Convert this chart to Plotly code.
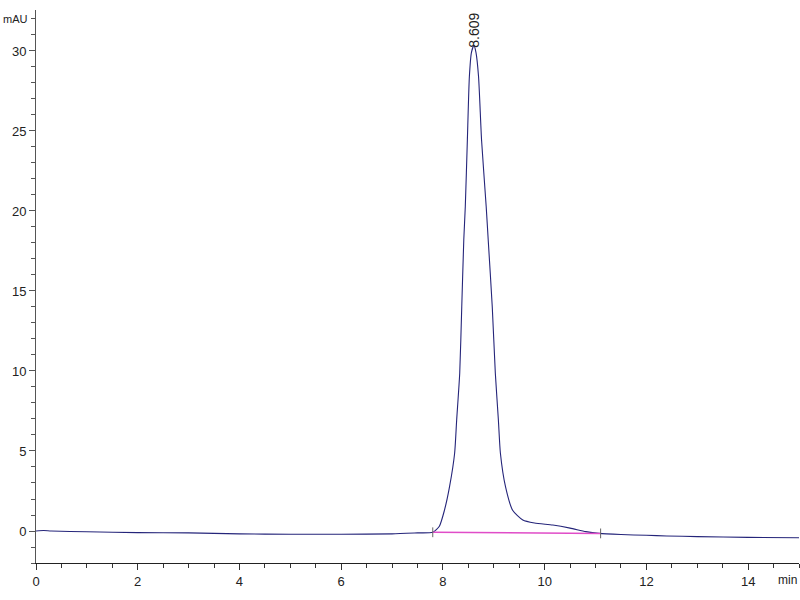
import plotly.graph_objects as go

# Chromatogram signal (time in min, absorbance in mAU)
time_min = [0.0, 0.15, 0.3, 1.0, 2.0, 3.0, 4.0, 5.0, 6.0, 7.0, 7.5, 7.8,
            7.93, 8.03, 8.13, 8.23, 8.27, 8.33, 8.37, 8.41, 8.44, 8.48, 8.52,
            8.56, 8.609, 8.65, 8.70, 8.76, 8.85, 8.89, 8.97, 9.03, 9.09, 9.13,
            9.23, 9.37, 9.57, 9.8, 10.16, 10.5, 10.81, 11.07, 11.5, 12.0,
            12.4, 13.0, 14.0, 15.0]
signal_mau = [0.0, 0.03, 0.0, -0.05, -0.1, -0.12, -0.18, -0.2, -0.2, -0.18,
              -0.12, -0.08, 0.3, 1.3, 2.77, 4.86, 6.94, 9.86, 14.0, 18.2,
              20.3, 24.4, 28.4, 29.9, 30.35, 29.9, 28.4, 24.4, 20.3, 18.2,
              14.0, 9.86, 6.94, 4.86, 2.77, 1.3, 0.69, 0.5, 0.37, 0.18, -0.04,
              -0.15, -0.22, -0.27, -0.31, -0.35, -0.4, -0.42]

# Integration baseline
baseline_x = [7.8, 11.1]
baseline_y = [-0.08, -0.15]

# Peak label
peak_rt = 8.609
peak_height = 30.35
peak_label = "8.609"

fig = go.Figure()
fig.add_trace(go.Scatter(x=time_min, y=signal_mau, mode="lines",
                         line=dict(color="#25257a", width=1.1, shape="spline", smoothing=0.6),
                         hoverinfo="skip", showlegend=False))
fig.add_trace(go.Scatter(x=baseline_x, y=baseline_y, mode="lines",
                         line=dict(color="#e04cc8", width=1.5),
                         hoverinfo="skip", showlegend=False))
fig.add_trace(go.Scatter(x=baseline_x, y=baseline_y, mode="markers",
                         marker=dict(symbol="line-ns", size=7,
                                     line=dict(color="#666", width=1)),
                         hoverinfo="skip", showlegend=False))

fig.add_annotation(x=peak_rt, y=peak_height, text=peak_label, textangle=-90,
                   showarrow=False, yanchor="bottom", xanchor="center",
                   yshift=-4, font=dict(family="Liberation Sans", size=14, color="#222"))
fig.add_annotation(x=0, xref="paper", xanchor="right", xshift=-6,
                   y=32, yref="y", text="mAU", showarrow=False,
                   font=dict(family="Liberation Sans", size=11, color="#222"))
fig.add_annotation(x=1, xref="paper", xanchor="right", y=0, yref="paper",
                   yanchor="top", yshift=-8, text="min", showarrow=False,
                   font=dict(family="Liberation Sans", size=12, color="#222"))

axis_font = dict(family="Liberation Sans", size=13, color="#222")
fig.update_xaxes(range=[0, 15], ticks="outside", ticklen=6, automargin=False,
                 tickcolor="#333", showline=True, linecolor="#222", linewidth=1,
                 showgrid=False, zeroline=False, tickfont=axis_font,
                 tickvals=[0, 2, 4, 6, 8, 10, 12, 14],
                 minor=dict(dtick=0.5, ticks="outside", ticklen=4, tickcolor="#333", showgrid=False))
fig.update_yaxes(range=[-2, 32.56], tick0=0, dtick=5, ticks="outside", ticklen=6,
                 automargin=False,
                 tickcolor="#555", showline=True, linecolor="#555", linewidth=1,
                 showgrid=False, zeroline=False, tickfont=axis_font,
                 minor=dict(dtick=1, ticks="outside", ticklen=4, tickcolor="#555", showgrid=False))

fig.update_layout(width=800, height=600, plot_bgcolor="white", paper_bgcolor="white",
                  margin=dict(l=36, r=1, t=10, b=37), showlegend=False)

fig.write_html("out.html", config={"displayModeBar": False},
               post_script="document.body.style.margin='0';document.body.style.overflow='hidden';")
